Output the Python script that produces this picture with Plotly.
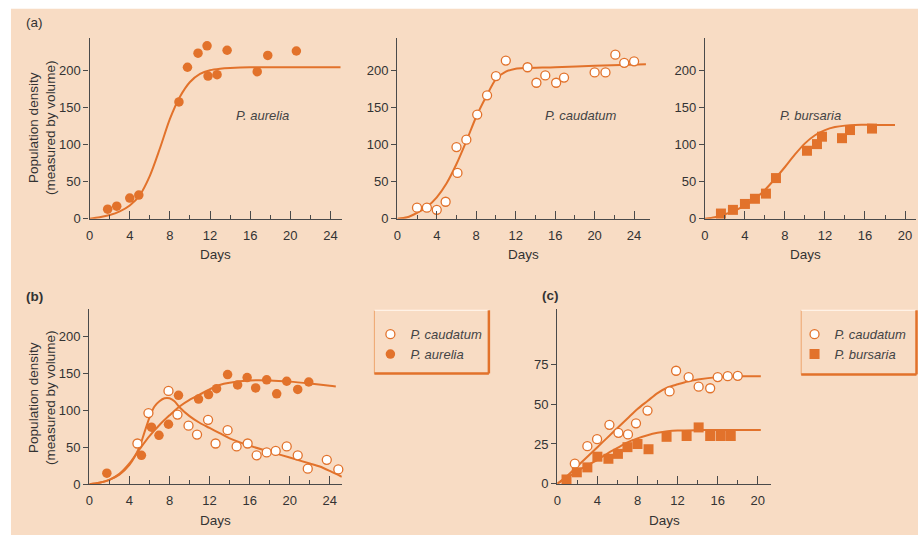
import plotly.graph_objects as go

W, H = 918, 543
FONT = "Liberation Sans, Arial, sans-serif"
ORANGE = "#E2722B"
AX = "#4a4a4a"
PEACH = "#F8DCC4"

# ---------------- data ----------------
# (a) single-species cultures
A1_X = [1.8, 2.7, 4.0, 4.9, 8.9, 9.75, 10.8, 11.7, 11.8, 12.7, 13.7, 16.7, 17.75, 20.6]
A1_Y = [13, 17, 28, 32, 158, 205, 224, 234, 193, 195, 228, 199, 221, 227]
A1_CX = [0, 1, 2, 3, 4, 5, 6, 7, 8, 9, 10, 11, 12, 13, 14, 16, 20, 25]
A1_CY = [0, 2, 5, 10, 18, 32, 58, 95, 135, 165, 185, 196, 201, 203, 204, 205, 205, 205]

A2_X = [2.0, 3.0, 4.0, 4.9, 6.0, 6.1, 7.0, 8.1, 9.1, 10.0, 11.0, 13.2, 14.1, 15.0, 16.1, 16.9, 20.0, 21.1, 22.1, 23.0, 24.0]
A2_Y = [15, 15, 12, 23, 97, 62, 107, 141, 167, 193, 214, 205, 184, 194, 184, 191, 198, 198, 222, 211, 213]
A2_CX = [0, 1, 2, 3, 4, 5, 6, 7, 8, 9, 10, 11, 12, 13, 16, 20, 25.2]
A2_CY = [0, 2, 8, 16, 29, 48, 74, 105, 138, 165, 189, 199, 203, 204, 205, 207, 209]

A3_X = [1.6, 2.8, 4.0, 5.0, 6.1, 7.1, 10.2, 11.2, 11.7, 13.7, 14.5, 16.7]
A3_Y = [7, 12, 20, 27, 34, 55, 92, 101, 111, 109, 120, 122]
A3_CX = [0, 1, 2, 3, 4, 5, 6, 7, 8, 9, 10, 11, 12, 13, 14, 15, 17, 19]
A3_CY = [0, 2, 6, 11, 18, 27, 39, 54, 70, 87, 102, 113, 120, 124, 126, 127, 127, 127]

# (b) P. caudatum with P. aurelia
BC_X = [4.8, 5.9, 7.9, 8.8, 9.9, 10.75, 11.85, 12.6, 13.8, 14.7, 15.8, 16.7, 17.7, 18.6, 19.7, 20.8, 21.8, 23.7, 24.85]
BC_Y = [55, 96, 126, 94, 79, 67, 87, 55, 73, 51, 55, 39, 43, 45, 51, 39, 21, 33, 20]
BC_CX = [0, 1, 2, 3, 4, 5, 5.5, 6, 6.5, 7, 7.5, 8, 8.5, 9, 10, 11, 12, 13, 14, 16, 18, 20, 22, 23, 24, 25.2]
BC_CY = [0, 2, 6, 13, 26, 50, 70, 90, 105, 112, 116, 116, 112, 104, 92, 83, 76, 69, 62, 52, 44, 36, 28, 24, 18, 10]

BA_X = [1.75, 5.2, 6.2, 6.95, 7.9, 8.9, 10.9, 11.9, 12.7, 13.8, 14.8, 15.75, 16.6, 17.7, 18.7, 19.7, 20.8, 21.9]
BA_Y = [15, 39, 77, 66, 81, 120, 115, 121, 129, 148, 134, 144, 130, 141, 122, 139, 128, 138]
BA_CX = [0, 1, 2, 3, 4, 5, 6, 7, 8, 9, 10, 11, 12, 13, 14, 16, 18, 20, 22, 24, 24.6]
BA_CY = [0, 2, 6, 14, 28, 47, 65, 80, 93, 105, 114, 121, 128, 134, 137, 140, 140, 138.5, 136, 133, 132]

# (c) P. caudatum with P. bursaria
CC_X = [1.75, 3.0, 3.97, 5.2, 6.1, 7.05, 7.85, 9.0, 11.2, 11.85, 13.1, 14.1, 15.25, 16.0, 17.0, 18.0]
CC_Y = [12.6, 23.6, 28, 37, 32, 31, 38, 46, 58, 71, 67, 61, 60, 67, 67.6, 67.8]
CC_CX = [0, 1, 2, 3, 4, 5, 6, 7, 8, 9, 10, 11, 12, 13, 14, 16, 18, 20.3]
CC_CY = [0, 5, 11, 17, 23, 29, 35, 41, 47, 52, 57, 60.5, 62.5, 64.3, 65.5, 67, 67.5, 67.5]

CB_X = [0.92, 1.95, 3.0, 4.0, 5.1, 6.05, 7.0, 8.0, 9.1, 10.9, 12.9, 14.1, 15.25, 16.3, 17.3]
CB_Y = [2.7, 7.2, 10.3, 17, 15.7, 18.8, 23, 25, 21.7, 29.5, 30, 35.4, 30, 30, 30]
CB_CX = [0, 1, 2, 3, 4, 5, 6, 7, 8, 9, 10, 11, 12, 14, 16, 20.3]
CB_CY = [0, 4, 8, 11.5, 15, 19, 22.5, 26, 28.5, 30.5, 32, 33, 33.5, 33.7, 33.7, 33.7]

X_TICKS_24 = [0, 4, 8, 12, 16, 20, 24]
X_TICKS_20 = [0, 4, 8, 12, 16, 20]
Y_TICKS_200 = [0, 50, 100, 150, 200]
Y_TICKS_75 = [0, 25, 50, 75]

NAME_CAUD = "<i>P. caudatum</i>"
NAME_AUR = "<i>P. aurelia</i>"
NAME_BURS = "<i>P. bursaria</i>"


def px(x):
    return x / W


def py(y):
    return 1 - y / H


fig = go.Figure()

filled_circle = dict(symbol="circle", size=9.5, color=ORANGE, line=dict(width=0))
open_circle = dict(symbol="circle", size=9, color="white", line=dict(color=ORANGE, width=1.3))
square = dict(symbol="square", size=10, color=ORANGE, line=dict(width=0))
line_style = dict(color=ORANGE, width=2, shape="spline", smoothing=0.8)


def add_curve(cx, cy, ax):
    fig.add_trace(go.Scatter(x=cx, y=cy, mode="lines", line=line_style, xaxis="x" + ax,
                             yaxis="y" + ax, showlegend=False, hoverinfo="skip"))


def add_pts(x, y, marker, ax, name=None, legend=None):
    fig.add_trace(go.Scatter(x=x, y=y, mode="markers", marker=marker, xaxis="x" + ax,
                             yaxis="y" + ax, cliponaxis=False, name=name,
                             showlegend=name is not None,
                             legend=legend if legend else "legend"))


# (a)
add_curve(A1_CX, A1_CY, "")
add_pts(A1_X, A1_Y, filled_circle, "")
add_curve(A2_CX, A2_CY, "2")
add_pts(A2_X, A2_Y, open_circle, "2")
add_curve(A3_CX, A3_CY, "3")
add_pts(A3_X, A3_Y, square, "3")
# (b)
add_curve(BC_CX, BC_CY, "4")
add_curve(BA_CX, BA_CY, "4")
add_pts(BC_X, BC_Y, open_circle, "4", NAME_CAUD, "legend")
add_pts(BA_X, BA_Y, filled_circle, "4", NAME_AUR, "legend")
# (c)
add_curve(CC_CX, CC_CY, "5")
add_curve(CB_CX, CB_CY, "5")
add_pts(CC_X, CC_Y, open_circle, "5", NAME_CAUD, "legend2")
add_pts(CB_X, CB_Y, square, "5", NAME_BURS, "legend2")

tickfont = dict(family=FONT, size=13, color="#333")


def xaxis(dom, rng, ticks, anchor):
    return dict(domain=[px(dom[0]), px(dom[1])], range=rng, anchor=anchor,
                showline=True, linecolor=AX, linewidth=1.4, showgrid=False, zeroline=False,
                tickvals=ticks, ticks="inside", ticklen=8, tickwidth=1.2, tickcolor=AX,
                minor=dict(dtick=2, tick0=0, ticks="inside", ticklen=4, tickwidth=1.1, tickcolor=AX),
                tickfont=tickfont, ticklabelstandoff=4, fixedrange=True)


def yaxis(dom, rng, ticks, anchor):
    return dict(domain=[py(dom[1]), py(dom[0])], range=rng, anchor=anchor,
                showline=True, linecolor=AX, linewidth=1.4, showgrid=False, zeroline=False,
                tickvals=ticks, ticks="outside", ticklen=5, tickwidth=1.2, tickcolor=AX,
                tickfont=tickfont, fixedrange=True)


layout = dict(
    width=W, height=H, margin=dict(l=0, r=0, t=0, b=0),
    paper_bgcolor="white", plot_bgcolor="white",
    xaxis=xaxis((86, 339), [0, 25.1], X_TICKS_24, "y"),
    yaxis=yaxis((39, 222), [0, 244], Y_TICKS_200, "x"),
    xaxis2=xaxis((395, 649), [0, 25.63], X_TICKS_24, "y2"),
    yaxis2=yaxis((39, 222), [0, 244], Y_TICKS_200, "x2"),
    xaxis3=xaxis((704, 916), [0, 21.1], X_TICKS_20, "y3"),
    yaxis3=yaxis((39, 222), [0, 244], Y_TICKS_200, "x3"),
    xaxis4=xaxis((85.7, 339.3), [0, 25.2], X_TICKS_24, "y4"),
    yaxis4=yaxis((314, 491.5), [0, 236], Y_TICKS_200, "x4"),
    xaxis5=xaxis((555.7, 770.7), [0, 21.35], X_TICKS_20, "y5"),
    yaxis5=yaxis((313.3, 491), [0, 110], Y_TICKS_75, "x5"),
    legend=dict(x=px(368), y=py(324), xanchor="left", yanchor="top",
                bgcolor="rgba(0,0,0,0)", borderwidth=0,
                font=dict(family=FONT, size=13, color="#444")),
    legend2=dict(x=px(794), y=py(324), xanchor="left", yanchor="top",
                 bgcolor="rgba(0,0,0,0)", borderwidth=0,
                 font=dict(family=FONT, size=13, color="#444")),
)
fig.update_layout(**layout)

shapes = [
    dict(type="rect", xref="paper", yref="paper", x0=px(7), x1=px(918), y0=py(543), y1=py(9),
         fillcolor=PEACH, line=dict(width=0), layer="below"),
]
for (x0, y0, x1, y1) in [(372, 315, 487, 379), (800.7, 315, 916.5, 380)]:
    shapes.append(dict(type="rect", xref="paper", yref="paper", x0=px(x0), x1=px(x1),
                       y0=py(y1), y1=py(y0), line=dict(color="#EDA56E", width=1),
                       fillcolor="rgba(0,0,0,0)", layer="above"))
    shapes.append(dict(type="line", xref="paper", yref="paper", x0=px(x0), x1=px(x1),
                       y0=py(y0), y1=py(y0), line=dict(color="#FFF2E6", width=1.5)))
    shapes.append(dict(type="line", xref="paper", yref="paper", x0=px(x1), x1=px(x1),
                       y0=py(y1), y1=py(y0), line=dict(color=ORANGE, width=2.5)))
    shapes.append(dict(type="line", xref="paper", yref="paper", x0=px(x0), x1=px(x1),
                       y0=py(y1), y1=py(y1), line=dict(color=ORANGE, width=2.5)))
fig.update_layout(shapes=shapes)

ann = []


def text(x, y, s, size=13, color="#333", angle=0, **kw):
    ann.append(dict(x=px(x), y=py(y), xref="paper", yref="paper", text=s, showarrow=False,
                    font=dict(family=FONT, size=size, color=color), textangle=angle,
                    xanchor="center", yanchor="middle", **kw))


text(31, 23, "(a)", 13.5)
text(31, 301, "<b>(b)</b>", 13.5)
text(549, 300, "<b>(c)</b>", 13.5)
ytitle = "Population density<br>(measured by volume)"
text(38, 130, ytitle, 13.5, angle=-90)
text(38, 404, ytitle, 13.5, angle=-90)
for cx, cy in [(212.5, 258), (522, 258), (805, 258), (212.5, 528), (663, 528)]:
    text(cx, cy, "Days", 13.5)
text(260, 117, "<i>P. aurelia</i>", 13, "#444")
text(579, 117, "<i>P. caudatum</i>", 13, "#444")
text(810, 117, "<i>P. bursaria</i>", 13, "#444")
fig.update_layout(annotations=ann)

fig.write_html(
    "out.html",
    config={"displayModeBar": False},
    post_script="document.body.style.margin='0';document.body.style.overflow='hidden';",
)
